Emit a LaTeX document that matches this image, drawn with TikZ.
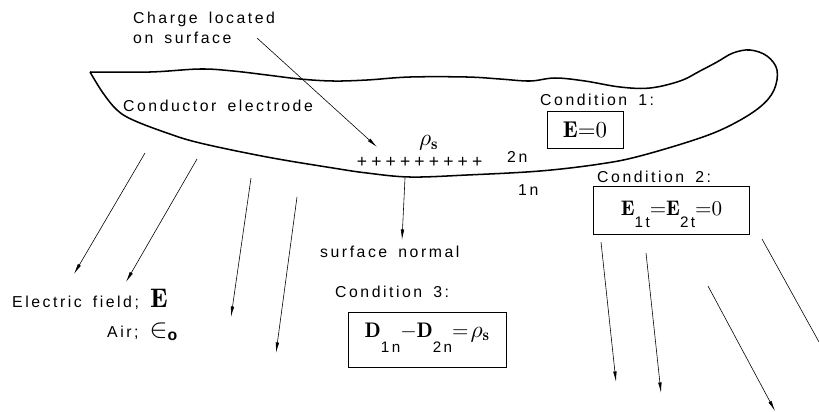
\documentclass[tikz,border=0pt]{standalone}
\usepackage{graphicx}
\usepackage{fontspec}
\usepackage{amsmath}
\newfontfamily\plotfont{Liberation Sans}[LetterSpace=16,WordSpace=1.6]
\usetikzlibrary{arrows.meta}
\tikzset{
  electrode/.style={draw=black, line width=1.3pt},
  fieldline/.style={draw=black, line width=0.5pt, -{Latex[length=9pt,width=3pt]}},
  txt/.style={font=\plotfont\fontsize{13.5}{17}\selectfont, inner sep=0pt, anchor=base west},
  charge/.style={font=\plotfont\fontsize{15}{16}\selectfont, inner sep=0pt},
  condbox/.style={draw, line width=0.6pt, inner xsep=0pt, inner ysep=0pt}
}
\newcommand{\mth}[2][1.8]{\scalebox{#1}{$#2$}}
\newcommand{\rhos}{\scalebox{2}{$\rho_{\mathbf{s}}$}}
\newcommand{\lowtxt}[2]{\lower #1\hbox{\plotfont\fontsize{13}{14}\selectfont #2}}
\begin{document}
\begin{tikzpicture}[x=0.03cm,y=-0.03cm]
  \useasboundingbox (0,0) rectangle (819,411);
  % conductor outline
  \draw[electrode] plot[smooth, tension=0.6] coordinates {(90,72) (150,72) (200,69) (233,71) (267,75) (300,79) (333,81) (367,80) (410,77) (467,77) (500,79) (530,81) (555,78) (585,81) (620,87) (650,88) (680,81) (700,71) (717,62) (733,53) (750,50) (767,56) (777,70) (774,90) (760,107) (733,124) (700,138) (640,156) (600,164) (540,171) (467,175) (410,177) (367,173) (333,168) (267,157) (200,143) (167,133) (133,120) (117,110) (103,93) (90,72)};

  % labels
  \node[txt, align=left, anchor=north west] (chargelbl) at (133,12) {Charge located\\on surface};
  \node[txt] (conductor) at (123,111) {Conductor electrode};
  \node[txt] (cond1) at (540,105) {Condition 1:};
  \node[txt] (cond2) at (597,182) {Condition 2:};
  \node[txt] (cond3) at (335,297) {Condition 3:};
  \node[txt] (normal) at (320,257) {surface normal};
  \node[txt] (twon) at (507,162) {2n};
  \node[txt] (onen) at (518,195) {1n};
  \node[txt] (field) at (12,307) {Electric field; \mth[1.7]{\mathbf{E}}};
  \node[txt] (air) at (107,337) {Air; \mth[1.6]{\in}\lower3pt\hbox{\bfseries o}};
  \node[inner sep=0pt] (rho) at (429,143) {\rhos};

  % surface charges
  \foreach \i in {0,...,8}
    \node[charge] (q\i) at (362+14.4*\i,162) {+};

  % boundary conditions
  \node[condbox, minimum width=64.6pt, text height=22.9pt, text depth=8.5pt] (box1) at (585,129.5) {\mth[1.95]{\mathbf{E}{=}0}};
  \node[condbox, minimum width=133.5pt, text height=25.5pt, text depth=15.3pt] (box2) at (671.5,210) {\mth{\mathbf{E}}\lowtxt{10pt}{1t}\mth{{=}\mathbf{E}}\lowtxt{10pt}{2t}\mth{{=}0}};
  \node[condbox, minimum width=135.2pt, text height=21.3pt, text depth=25.5pt] (box3) at (427.5,339.5) {\mth{\mathbf{D}}\lowtxt{13pt}{1n}\mth{-\mathbf{D}}\lowtxt{13pt}{2n}\mth{{=}}\,\rhos};

  % pointers
  \coordinate (ptr0) at (257,38);
  \coordinate (ptr1) at (377,147);
  \draw[fieldline] (ptr0) -- (ptr1);
  \coordinate (n0) at (405,178);
  \coordinate (n1) at (402,240);
  \draw[fieldline] (n0) -- (n1);

  % field lines
  \foreach \sx/\sy/\ex/\ey [count=\k] in {145/153/74/274, 197/159/126/282, 251/178/231/317, 297/197/276/353, 601/242/616/382, 646/253/661/393, 708/286/775/411}{
    \coordinate (f\k a) at (\sx,\sy);
    \coordinate (f\k b) at (\ex,\ey);
    \draw[fieldline] (f\k a) -- (f\k b);
  }
  \coordinate (f8a) at (762,239);
  \coordinate (f8b) at (819,342);
  \draw[line width=0.5pt] (f8a) -- (f8b);
\end{tikzpicture}
\end{document}
